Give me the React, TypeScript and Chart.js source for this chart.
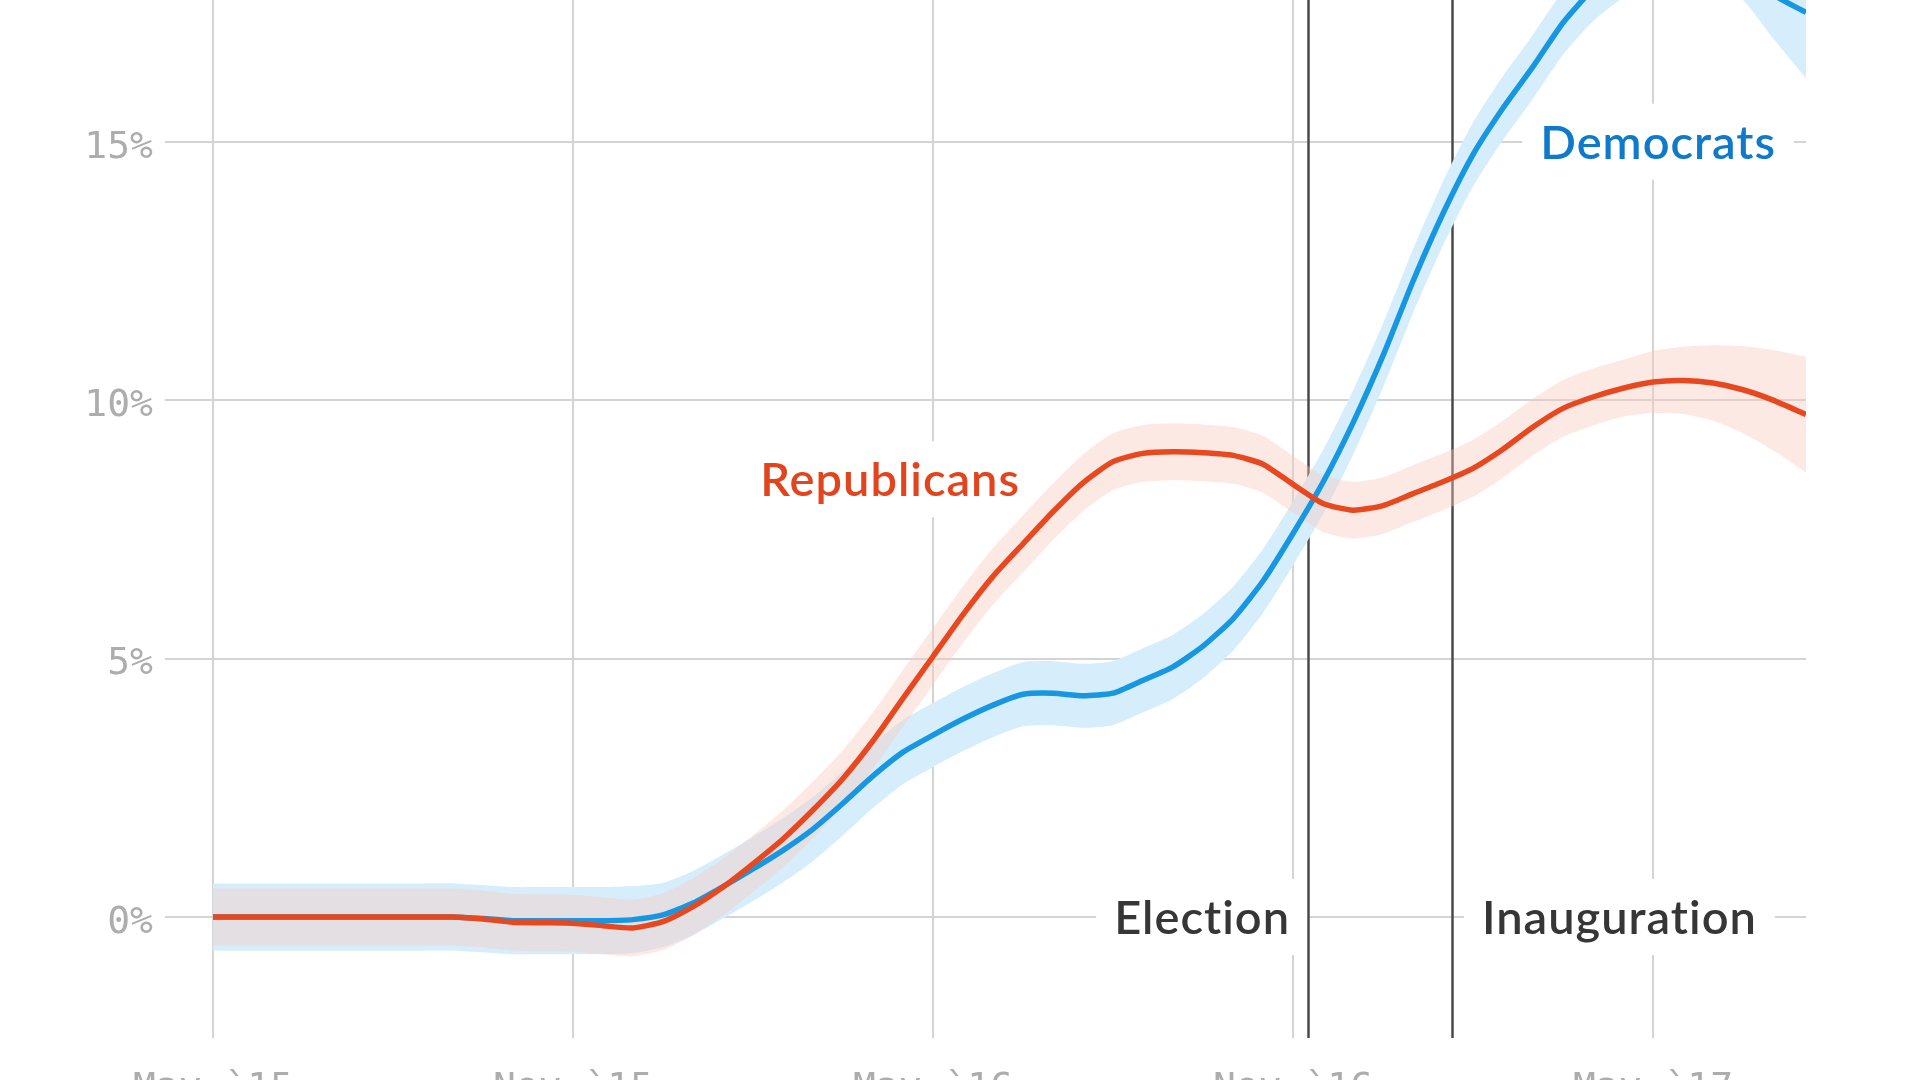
import React, { useEffect, useRef } from 'react';
import { Chart, registerables } from 'chart.js';

Chart.register(...registerables);

// months since May 2015
const months = [0, 0.5, 1, 1.5, 2, 2.5, 3, 3.5, 4, 4.5, 5, 5.5, 6, 6.5, 7, 7.5, 8, 8.5, 9, 9.5, 10, 10.5, 11, 11.5, 12, 12.5, 13, 13.5, 14, 14.5, 15, 15.5, 16, 16.5, 17, 17.5, 18, 18.5, 19, 19.5, 20, 20.5, 21, 21.5, 22, 22.5, 23, 23.5, 24, 24.5, 25, 25.5, 26, 26.55];

const democrats = [0, 0, 0, 0, 0, 0, 0, 0, 0, -0.03, -0.07, -0.07, -0.07, -0.07, -0.05, 0.04, 0.27, 0.59, 0.93, 1.29, 1.7, 2.2, 2.73, 3.19, 3.52, 3.83, 4.1, 4.31, 4.33, 4.28, 4.33, 4.58, 4.84, 5.24, 5.77, 6.5, 7.42, 8.41, 9.56, 10.86, 12.3, 13.61, 14.75, 15.65, 16.45, 17.3, 17.95, 18.4, 18.65, 18.75, 18.72, 18.44, 17.85, 17.5];

const republicans = [0, 0, 0, 0, 0, 0, 0, 0, 0, -0.04, -0.1, -0.11, -0.12, -0.17, -0.21, -0.09, 0.2, 0.58, 1.03, 1.51, 2.07, 2.68, 3.41, 4.23, 5.04, 5.85, 6.59, 7.22, 7.84, 8.4, 8.81, 8.97, 9.0, 8.98, 8.93, 8.76, 8.37, 8.0, 7.87, 7.96, 8.19, 8.42, 8.68, 9.05, 9.48, 9.84, 10.06, 10.23, 10.35, 10.38, 10.33, 10.2, 10.0, 9.72];

// half-width of the uncertainty band (percentage points)
const democratsBand = [0.65, 0.65, 0.65, 0.65, 0.65, 0.65, 0.65, 0.65, 0.65, 0.65, 0.65, 0.65, 0.65, 0.65, 0.65, 0.62, 0.62, 0.62, 0.62, 0.62, 0.62, 0.62, 0.62, 0.62, 0.62, 0.62, 0.62, 0.62, 0.62, 0.62, 0.62, 0.62, 0.62, 0.62, 0.62, 0.62, 0.62, 0.62, 0.62, 0.62, 0.62, 0.62, 0.62, 0.62, 0.62, 0.62, 0.62, 0.62, 0.64, 0.66, 0.68, 0.7, 0.85, 1.27];

const republicansBand = [0.55, 0.55, 0.55, 0.55, 0.55, 0.55, 0.55, 0.55, 0.55, 0.55, 0.55, 0.55, 0.55, 0.55, 0.55, 0.55, 0.55, 0.55, 0.55, 0.55, 0.55, 0.55, 0.55, 0.55, 0.55, 0.55, 0.55, 0.55, 0.55, 0.55, 0.55, 0.55, 0.55, 0.55, 0.55, 0.55, 0.55, 0.55, 0.55, 0.55, 0.55, 0.55, 0.55, 0.55, 0.55, 0.55, 0.55, 0.55, 0.6, 0.65, 0.73, 0.84, 0.97, 1.12];

const xTickValues = [0, 6, 12, 18, 24];
const xTickLabels = ['May `15', 'Nov `15', 'May `16', 'Nov `16', 'May `17'];
const yTickValues = [0, 5, 10, 15];

const eventNames = ['Election', 'Inauguration'];
const eventMonths = [18.25, 20.65];

const seriesNames = ['Democrats', 'Republicans'];

const BLUE_LINE = '#1796e2';
const BLUE_TEXT = '#0f7acb';
const BLUE_BAND = '#d6eefc';
const RED_LINE = '#e8481f';
const RED_TEXT = '#e2441d';
const RED_BAND = 'rgba(250,200,187,0.4)';
const LABEL_FONT = 'Lato';
const LABEL_SIZE = 47;
const LABEL_WEIGHT = 600;
const LABEL_SPACING = '1px';

type Label = { text: string; x: number; y: number; align: 'left' | 'right'; color: string };

const labels: Label[] = [
  { text: seriesNames[0], x: 26.05, y: 15, align: 'right', color: BLUE_TEXT },
  { text: seriesNames[1], x: 13.45, y: 8.47, align: 'right', color: RED_TEXT },
  { text: eventNames[0], x: 17.95, y: 0, align: 'right', color: '#363636' },
  { text: eventNames[1], x: 21.15, y: 0, align: 'left', color: '#363636' },
];

const annotationPlugin = {
  id: 'annotations',
  beforeDatasetsDraw(chart: any) {
    const { ctx, chartArea, scales } = chart;
    const xs = scales.x;
    const ys = scales.y;
    ctx.save();
    ctx.font = `${LABEL_WEIGHT} ${LABEL_SIZE}px ${LABEL_FONT}`;
    try {
      (ctx as any).letterSpacing = LABEL_SPACING;
    } catch (e) {
      /* ignore */
    }
    const boxes = labels.map((l) => {
      const w = ctx.measureText(l.text).width;
      const px = xs.getPixelForValue(l.x);
      const py = ys.getPixelForValue(l.y);
      const left = l.align === 'right' ? px - w : px;
      return { l, w, left, py };
    });
    ctx.fillStyle = '#ffffff';
    boxes.forEach((b) => {
      ctx.fillRect(b.left - 18, b.py - 38, b.w + 36, 76);
    });
    ctx.strokeStyle = '#4a4a4a';
    ctx.lineWidth = 2.5;
    eventMonths.forEach((m) => {
      const px = Math.round(xs.getPixelForValue(m)) + 0.5;
      ctx.beginPath();
      ctx.moveTo(px, chartArea.top);
      ctx.lineTo(px, chartArea.bottom);
      ctx.stroke();
    });
    ctx.textBaseline = 'alphabetic';
    ctx.textAlign = 'left';
    boxes.forEach((b) => {
      ctx.fillStyle = b.l.color;
      ctx.fillText(b.l.text, b.left, b.py + (LABEL_SIZE * 0.72) / 2);
    });
    ctx.restore();
  },
};

export default function App() {
  const canvasRef = useRef<HTMLCanvasElement | null>(null);

  useEffect(() => {
    if (!canvasRef.current) return;
    const demUpper = months.map((m, i) => ({ x: m, y: democrats[i] + democratsBand[i] }));
    const demLower = months.map((m, i) => ({ x: m, y: democrats[i] - democratsBand[i] }));
    const repUpper = months.map((m, i) => ({ x: m, y: republicans[i] + republicansBand[i] }));
    const repLower = months.map((m, i) => ({ x: m, y: republicans[i] - republicansBand[i] }));
    const demLine = months.map((m, i) => ({ x: m, y: democrats[i] }));
    const repLine = months.map((m, i) => ({ x: m, y: republicans[i] }));

    const tickFont = { family: 'DejaVu Sans Mono', size: 38 };

    const chart = new Chart(canvasRef.current, {
      type: 'line',
      data: {
        datasets: [
          { label: 'demUpper', data: demUpper, borderWidth: 0, pointRadius: 0, fill: '+1', backgroundColor: BLUE_BAND, order: 5 },
          { label: 'demLower', data: demLower, borderWidth: 0, pointRadius: 0, fill: false, order: 5 },
          { label: 'repUpper', data: repUpper, borderWidth: 0, pointRadius: 0, fill: '+1', backgroundColor: RED_BAND, order: 4 },
          { label: 'repLower', data: repLower, borderWidth: 0, pointRadius: 0, fill: false, order: 4 },
          { label: seriesNames[0], data: demLine, borderColor: BLUE_LINE, borderWidth: 5.5, pointRadius: 0, fill: false, order: 2 },
          { label: seriesNames[1], data: repLine, borderColor: RED_LINE, borderWidth: 5.5, pointRadius: 0, fill: false, order: 1 },
        ],
      },
      options: {
        animation: false,
        responsive: true,
        maintainAspectRatio: false,
        layout: { padding: { left: 0, right: 114, top: 0, bottom: 0 } },
        elements: { line: { tension: 0.2, borderJoinStyle: 'round', borderCapStyle: 'butt' }, point: { radius: 0 } },
        plugins: { legend: { display: false }, tooltip: { enabled: false } },
        scales: {
          x: {
            type: 'linear',
            min: -0.8,
            max: 26.55,
            afterBuildTicks: (s: any) => {
              s.ticks = xTickValues.map((v) => ({ value: v }));
            },
            afterFit: (s: any) => {
              s.height = 72;
              s.paddingLeft = 0;
              s.paddingRight = 0;
            },
            ticks: {
              autoSkip: false,
              maxRotation: 0,
              padding: 28,
              color: '#adadad',
              font: tickFont,
              callback: (v: any) => {
                const i = xTickValues.indexOf(Number(v));
                return i >= 0 ? xTickLabels[i] : '';
              },
            },
            grid: { color: '#d4d4d4', lineWidth: 2, drawTicks: false },
            border: { display: false },
          },
          y: {
            type: 'linear',
            min: -2.34,
            max: 17.74,
            afterBuildTicks: (s: any) => {
              s.ticks = yTickValues.map((v) => ({ value: v }));
            },
            afterFit: (s: any) => {
              s.width = 165;
              s.paddingTop = 0;
              s.paddingBottom = 0;
            },
            ticks: {
              padding: 12,
              labelOffset: 6,
              color: '#adadad',
              font: tickFont,
              callback: (v: any) => `${v}%`,
            },
            grid: { color: '#d4d4d4', lineWidth: 2, drawTicks: false },
            border: { display: false },
          },
        },
      },
      plugins: [annotationPlugin],
    });
    return () => chart.destroy();
  }, []);

  return (
    <div style={{ position: 'fixed', left: 0, top: 0, width: 1920, height: 1080, overflow: 'hidden', background: '#fff' }}>
      <div style={{ position: 'relative', width: 1920, height: 1110 }}>
        <canvas ref={canvasRef} />
      </div>
    </div>
  );
}
